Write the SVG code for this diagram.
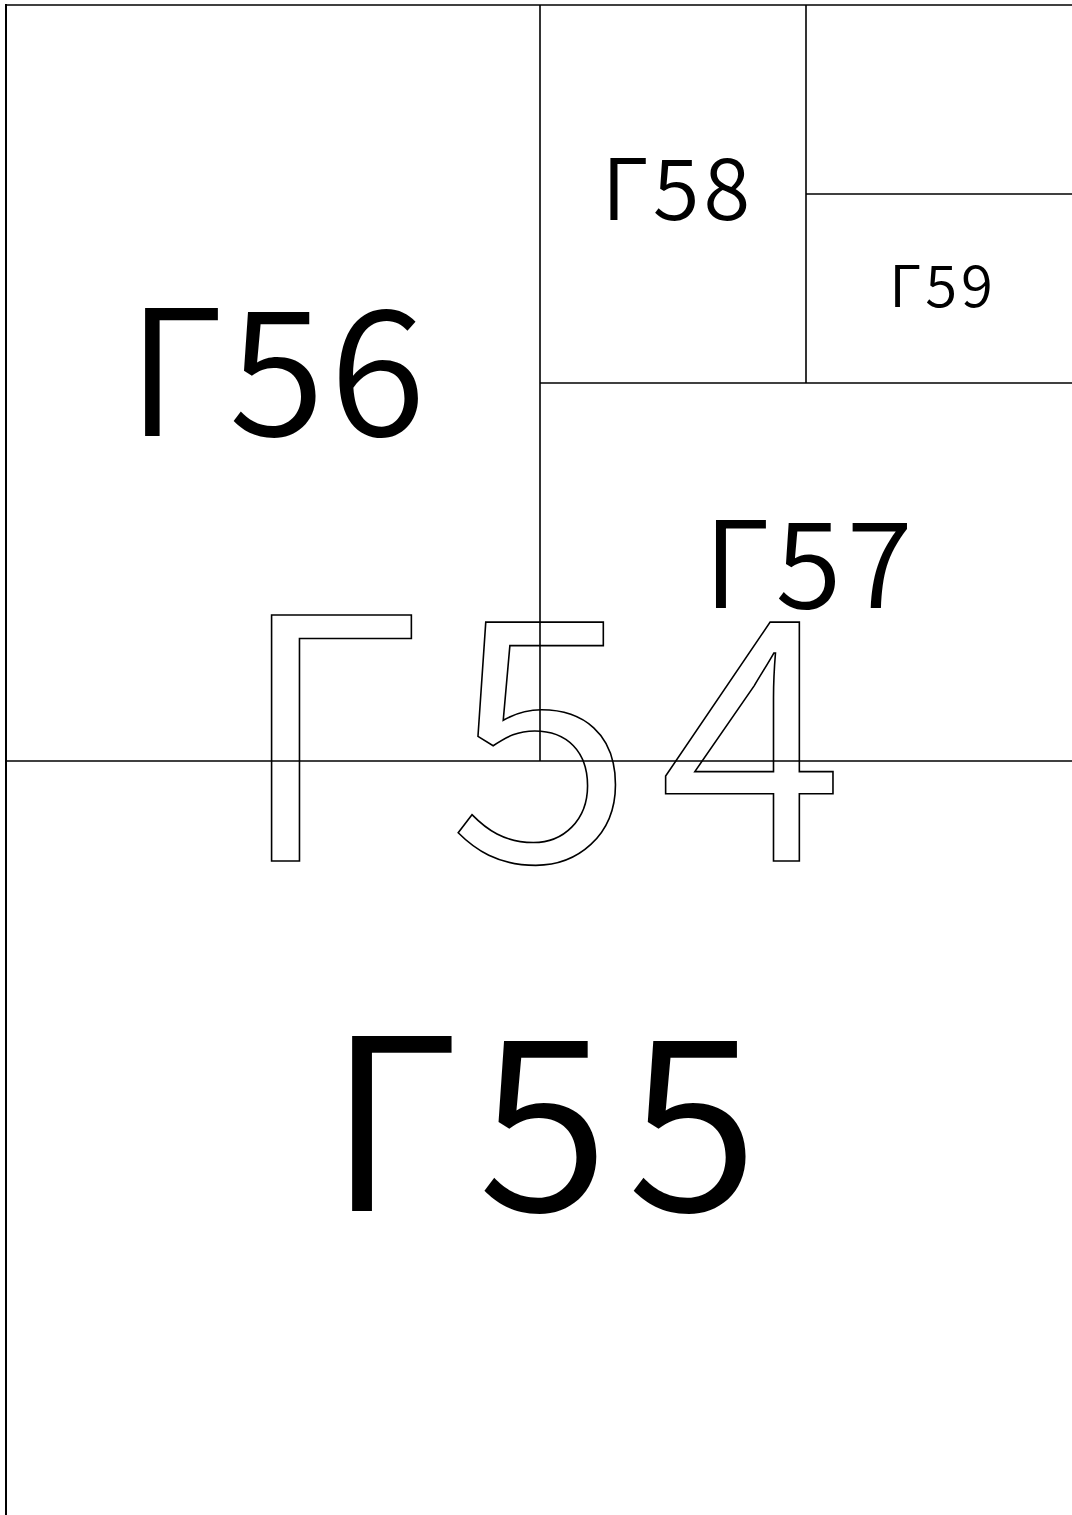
<svg xmlns="http://www.w3.org/2000/svg" width="1072" height="1515" viewBox="0 0 1072 1515">
<style>
.ln{stroke:#000;stroke-width:1.6;fill:none}
.lb{font-family:"Noto Sans CJK JP","Noto Sans",sans-serif;font-weight:350;fill:#000;text-anchor:middle}
.ol{font-family:"Noto Sans CJK JP","Noto Sans",sans-serif;font-weight:350;fill:none;stroke:#000;stroke-width:1.6;text-anchor:middle}
</style>
<rect width="1072" height="1515" fill="#fff"/>
<g id="connectors">
<line class="ln" x1="6" y1="5" x2="1072" y2="5"/>
<line class="ln" x1="6" y1="4" x2="6" y2="1515" style="stroke-width:2"/>
<line class="ln" x1="6" y1="761" x2="1072" y2="761"/>
<line class="ln" x1="540" y1="5" x2="540" y2="761"/>
<line class="ln" x1="540" y1="383" x2="1072" y2="383"/>
<line class="ln" x1="806" y1="5" x2="806" y2="383"/>
<line class="ln" x1="806" y1="194" x2="1072" y2="194"/>
</g>
<g id="n55"><text class="lb" x="552" y="1211" font-size="239" letter-spacing="18">Γ55</text></g>
<g id="n56"><text class="lb" x="279" y="436" font-size="175" letter-spacing="5">Γ56</text></g>
<g id="n57"><text class="lb" x="811" y="608" font-size="120" letter-spacing="5.5">Γ57</text></g>
<g id="n58"><text class="lb" x="678" y="220" font-size="85" letter-spacing="4">Γ58</text></g>
<g id="n59"><text class="lb" x="943" y="307" font-size="58" letter-spacing="4">Γ59</text></g>
<g id="n54"><text class="ol" x="553.5" y="861" font-size="336" letter-spacing="26">Γ54</text></g>
</svg>
